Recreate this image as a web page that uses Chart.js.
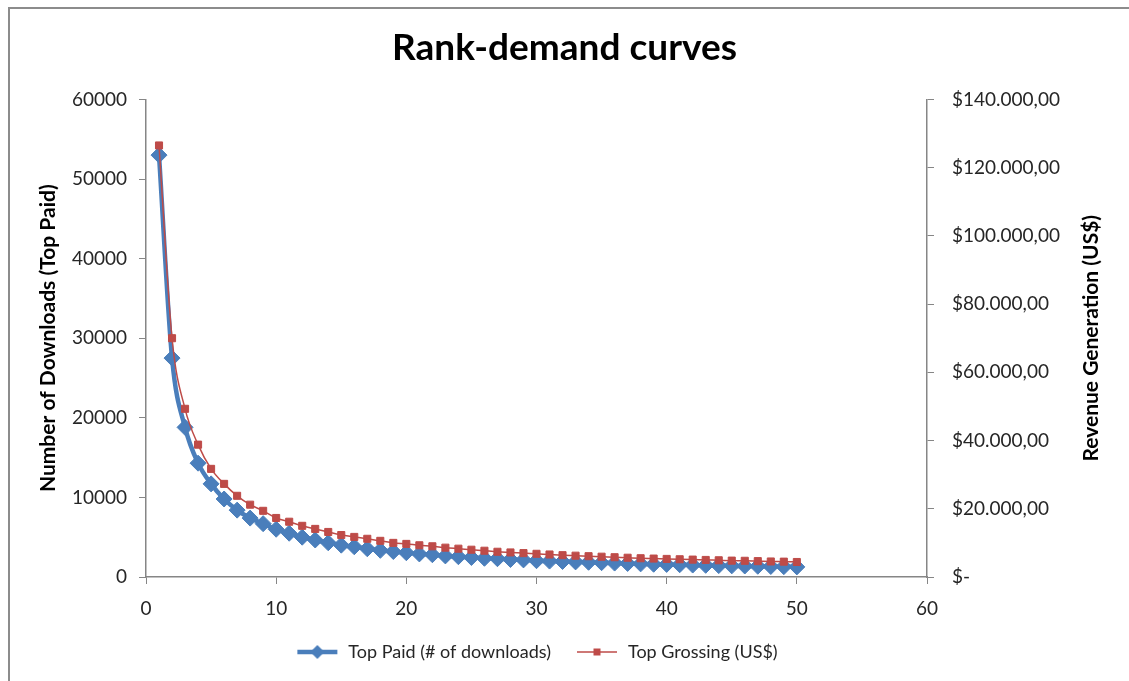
<!DOCTYPE html>
<html>
<head>
<meta charset="utf-8">
<script src="https://cdn.jsdelivr.net/npm/chart.js@4/dist/chart.umd.min.js"></script>
<style>
    html, body { margin: 0; padding: 0; background: #fff; overflow: hidden; }
    #frame { position: absolute; left: 8px; top: 7px; width: 2000px; height: 2000px; border: 2px solid #8c8c8c; }
    #wrap { position: absolute; left: 0; top: 0; width: 1129px; height: 681px; }
</style>
</head>
<body>
<div id="frame"></div>
<div id="wrap"><canvas id="rankChart"></canvas></div>
<script>
// -- Data --
const ranks = [1, 2, 3, 4, 5, 6, 7, 8, 9, 10,
    11, 12, 13, 14, 15, 16, 17, 18, 19, 20,
    21, 22, 23, 24, 25, 26, 27, 28, 29, 30,
    31, 32, 33, 34, 35, 36, 37, 38, 39, 40,
    41, 42, 43, 44, 45, 46, 47, 48, 49, 50];

const topPaidDownloads = [53000, 27500, 18800, 14300, 11700, 9800, 8400, 7400, 6700, 6000,
    5500, 5000, 4650, 4300, 4000, 3800, 3550, 3350, 3200, 3050,
    2900, 2800, 2650, 2550, 2450, 2350, 2300, 2200, 2150, 2050,
    2000, 1950, 1900, 1850, 1800, 1750, 1700, 1650, 1600, 1580,
    1540, 1500, 1470, 1430, 1400, 1380, 1350, 1320, 1300, 1270];

const topGrossingRevenue = [126500, 70000, 49300, 38800, 31700, 27300, 23800, 21200, 19400, 17300,
    16200, 15000, 14100, 13200, 12300, 11750, 11200, 10600, 10000, 9700,
    9300, 9000, 8600, 8300, 8000, 7700, 7400, 7200, 7000, 6800,
    6600, 6400, 6250, 6100, 5950, 5800, 5650, 5500, 5400, 5300,
    5200, 5100, 5000, 4900, 4800, 4750, 4650, 4550, 4500, 4400];

const seriesNames = ['Top Paid (# of downloads)', 'Top Grossing (US$)'];

const blue = '#4a7ebb';
const red = '#be4b48';
const axisGray = '#868686';
const textColor = '#262626';
const fontFamily = 'Lato, "Open Sans", sans-serif';

// -- Helper Functions --
const toPoints = (values) => ranks.map((r, i) => ({ x: r, y: values[i] }));

const formatDollars = (value) => {
    if (value === 0) return '$-';
    return '$' + String(value).replace(/\B(?=(\d{3})+(?!\d))/g, '.') + ',00';
};

// small canvas used as legend symbol: a line with a marker in the middle
function makeLegendIcon(color, lineWidth, marker) {
    const c = document.createElement('canvas');
    c.width = 44;
    c.height = 18;
    const g = c.getContext('2d');
    g.strokeStyle = color;
    g.fillStyle = color;
    g.lineWidth = lineWidth;
    g.beginPath();
    g.moveTo(2, 9);
    g.lineTo(42, 9);
    g.stroke();
    g.beginPath();
    if (marker === 'diamond') {
        g.moveTo(22, 2); g.lineTo(29, 9); g.lineTo(22, 16); g.lineTo(15, 9);
    } else {
        g.rect(18.5, 5.5, 7, 7);
    }
    g.closePath();
    g.fill();
    return c;
}

// Chart.js turns a right-hand axis title clockwise; the reference reads bottom-to-top
const rightTitlePlugin = {
    id: 'rightTitle',
    afterDraw(chart) {
        const s = chart.scales.y1;
        const ctx = chart.ctx;
        ctx.save();
        ctx.translate(1091, (s.top + s.bottom) / 2);
        ctx.rotate(-Math.PI / 2);
        ctx.font = 'bold 21px ' + fontFamily;
        ctx.fillStyle = '#000';
        ctx.textAlign = 'center';
        ctx.textBaseline = 'middle';
        ctx.fillText('Revenue Generation (US$)', 0, 0);
        ctx.restore();
    }
};

const ctx = document.getElementById('rankChart').getContext('2d');

new Chart(ctx, {
    type: 'line',
    data: {
        datasets: [{
            label: seriesNames[0],
            data: toPoints(topPaidDownloads),
            yAxisID: 'y',
            borderColor: blue,
            backgroundColor: blue,
            borderWidth: 4.5,
            pointStyle: 'rectRot',
            pointRadius: 8,
            pointBorderWidth: 1,
            cubicInterpolationMode: 'monotone',
            order: 1
        }, {
            label: seriesNames[1],
            data: toPoints(topGrossingRevenue),
            yAxisID: 'y1',
            borderColor: red,
            backgroundColor: red,
            borderWidth: 1.5,
            pointStyle: 'rect',
            pointRadius: 5,
            pointBorderWidth: 1,
            cubicInterpolationMode: 'monotone',
            order: 0
        }]
    },
    options: {
        responsive: true,
        maintainAspectRatio: false,
        animation: false,
        layout: {
            padding: { left: 0, right: 0, top: 0, bottom: 10 }
        },
        scales: {
            x: {
                type: 'linear',
                min: 0,
                max: 60,
                grid: { drawOnChartArea: false, color: axisGray, tickLength: 7 },
                border: { color: axisGray, width: 1.5 },
                ticks: {
                    stepSize: 10,
                    padding: 13,
                    color: textColor,
                    font: { family: fontFamily, size: 19 }
                },
                afterFit: (scale) => { scale.height = 42; }
            },
            y: {
                position: 'left',
                min: 0,
                max: 60000,
                grid: { drawOnChartArea: false, color: axisGray, tickLength: 7 },
                border: { color: axisGray, width: 1.5 },
                ticks: {
                    stepSize: 10000,
                    padding: 12,
                    color: textColor,
                    font: { family: fontFamily, size: 19 },
                    callback: (value) => String(value)
                },
                title: {
                    display: true,
                    text: 'Number of Downloads (Top Paid)',
                    color: '#000',
                    font: { family: fontFamily, size: 21, weight: 'bold' },
                    padding: { top: 36, bottom: 0 }
                },
                afterFit: (scale) => { scale.width = 146; }
            },
            y1: {
                position: 'right',
                min: 0,
                max: 140000,
                grid: { drawOnChartArea: false, color: axisGray, tickLength: 7 },
                border: { color: axisGray, width: 1.5 },
                ticks: {
                    stepSize: 20000,
                    padding: 18,
                    color: textColor,
                    font: { family: fontFamily, size: 19 },
                    callback: (value) => formatDollars(value)
                },
                afterFit: (scale) => { scale.width = 1129 - 927; }
            }
        },
        plugins: {
            title: {
                display: true,
                text: 'Rank-demand curves',
                color: '#000',
                font: { family: fontFamily, size: 37, weight: 'bold' },
                padding: { top: 26, bottom: 29 }
            },
            legend: {
                position: 'bottom',
                fullSize: false,
                labels: {
                    usePointStyle: true,
                    pointStyleWidth: 44,
                    padding: 24,
                    color: textColor,
                    font: { family: fontFamily, size: 18 },
                    generateLabels: (chart) => [
                        { text: seriesNames[0], pointStyle: makeLegendIcon(blue, 4.5, 'diamond'), datasetIndex: 0, lineWidth: 0, fontColor: textColor },
                        { text: seriesNames[1], pointStyle: makeLegendIcon(red, 1.5, 'square'), datasetIndex: 1, lineWidth: 0, fontColor: textColor }
                    ]
                }
            },
            tooltip: { enabled: false }
        }
    },
    plugins: [rightTitlePlugin]
});
</script>
</body>
</html>
